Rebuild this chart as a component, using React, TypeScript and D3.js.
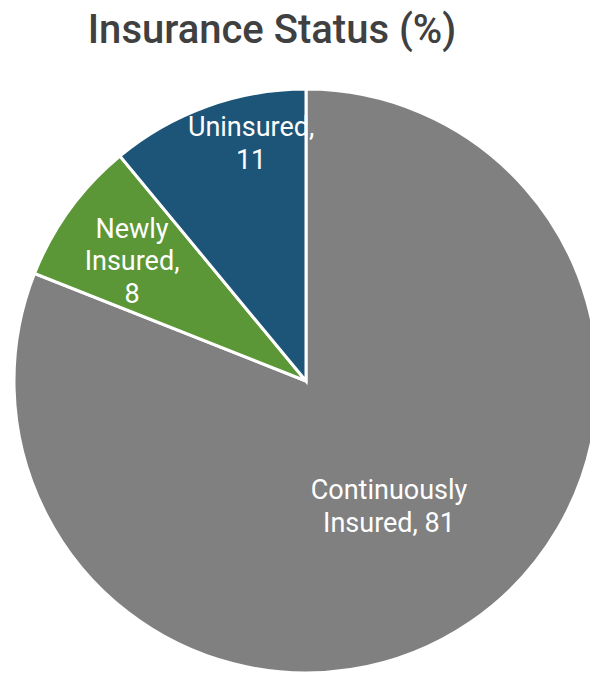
import React from "react";
import * as d3 from "d3";

const categories = ["Continuously Insured", "Newly Insured", "Uninsured"];
const values = [81, 8, 11];
const labelLines = [["Continuously", "Insured, 81"], ["Newly", "Insured,", "8"], ["Uninsured,", "11"]];
const colors = ["#808080", "#5b9737", "#1c5577"];

// label placement (radius, angle offset in degrees) per slice
const labelPlacement = [
  { r: 150, da: 0.6 },
  { r: 211.6, da: -1.3 },
  { r: 244, da: 6.8 },
];

export default function App() {
  const W = 590, H = 675;
  const cx = 306, cy = 381, R = 292;
  const pie = d3.pie<number>().sort(null).value((d) => d).startAngle(0).endAngle(2 * Math.PI);
  const arcs = pie(values);
  const arcGen = d3.arc<d3.PieArcDatum<number>>().innerRadius(0).outerRadius(R);
  const lineH = 32.5;
  return (
    <svg width={W} height={H} style={{ position: "absolute", left: 0, top: 0 }}>
      <rect width={W} height={H} fill="#ffffff" />
      <text x={272} y={43} textAnchor="middle" fontFamily="Roboto" fontWeight={500} fontSize={40} fill="#404040">
        Insurance Status (%)
      </text>
      <g transform={`translate(${cx},${cy})`}>
        {arcs.map((a, i) => (
          <path key={categories[i]} d={arcGen(a) || ""} fill={colors[i]} stroke="#ffffff" strokeWidth={3} strokeLinejoin="miter" />
        ))}
        {arcs.map((a, i) => {
          const mid = (a.startAngle + a.endAngle) / 2 + (labelPlacement[i].da * Math.PI) / 180;
          const r = labelPlacement[i].r;
          const x = r * Math.sin(mid);
          const y = -r * Math.cos(mid);
          const lines = labelLines[i];
          const top = y - ((lines.length - 1) * lineH) / 2;
          return (
            <text key={"l" + i} textAnchor="middle" fontFamily="Roboto" fontSize={27} fill="#ffffff">
              {lines.map((ln, j) => (
                <tspan key={j} x={x} y={top + j * lineH} dy="0.35em">
                  {ln}
                </tspan>
              ))}
            </text>
          );
        })}
      </g>
    </svg>
  );
}
